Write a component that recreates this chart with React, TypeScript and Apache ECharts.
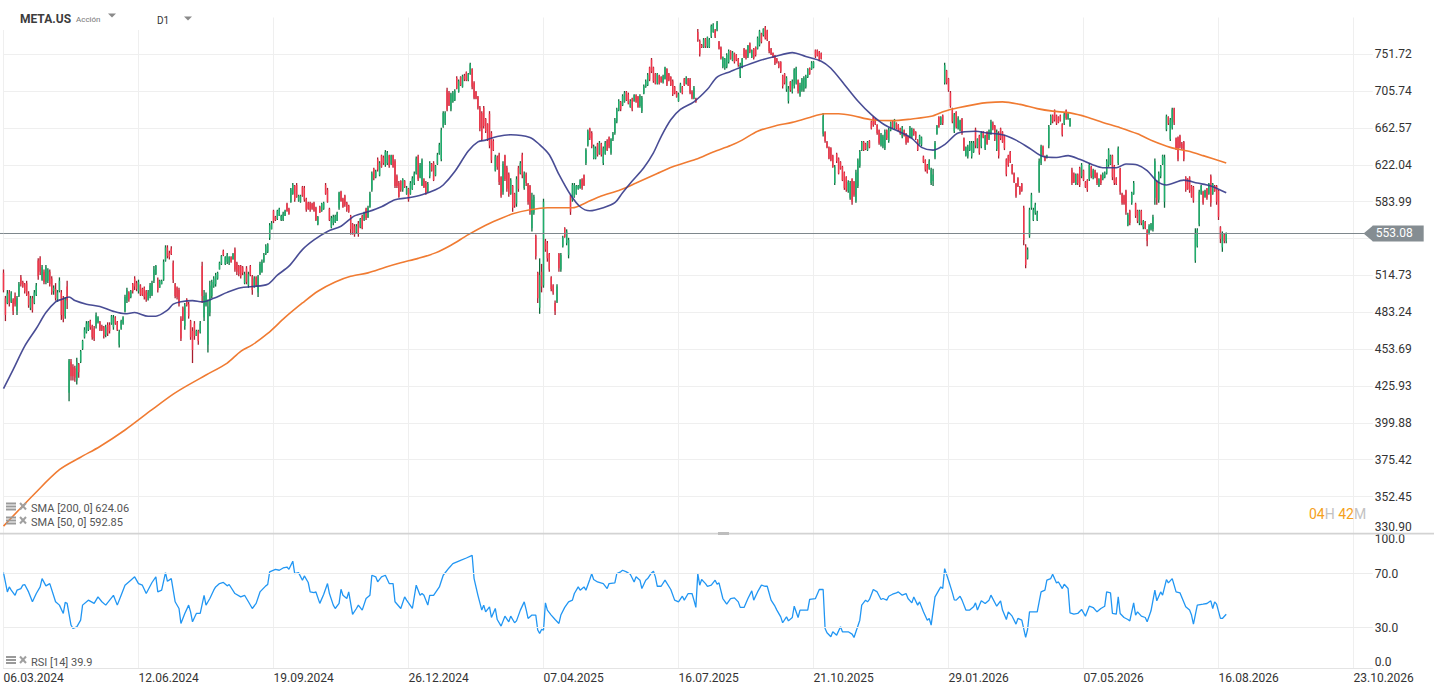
import React, { useEffect, useRef } from 'react';
import * as echarts from 'echarts';

// ---------- data ----------
const dateLabels = ['06.03.2024', '12.06.2024', '19.09.2024', '26.12.2024', '07.04.2025', '16.07.2025', '21.10.2025', '29.01.2026', '07.05.2026', '16.08.2026', '23.10.2026'];
const priceTicks = [330.9, 352.45, 375.42, 399.88, 425.93, 453.69, 483.24, 514.73, 548.27, 583.99, 622.04, 662.57, 705.74, 751.72];
const rsiTicks = [0, 30, 70, 100];
const lastPrice = 553.08;
const sma200Last = 624.06;
const sma50Last = 592.85;
const rsiLast = 39.9;

// [open, close, low, high] per trading day
const candles: number[][] = [
  [517,502,500,520],[495,481,476,497],[491,499,490,502],[500,491,488,502],[492,499,491,501],[494,484,481,495],[497,490,488,500],[484,495,481,497],[497,507,496,509],[513,507,505,515],
  [509,505,504,510],[507,501,499,508],[508,498,497,510],[499,489,487,501],[487,495,485,497],[495,485,483,497],[491,500,490,502],[498,506,497,508],[528,514,511,530],[530,518,515,532],
  [511,522,510,524],[518,509,507,520],[509,522,507,524],[510,519,508,521],[518,507,505,520],[512,500,498,514],[501,504,498,506],[503,495,493,508],[494,500,492,502],[501,510,500,513],
  [500,481,477,502],[494,478,475,497],[480,494,478,496],[505,493,486,510],[421,445,415,446],[444,433,430,446],[440,433,430,442],[439,432,429,441],[430,444,427,447],[442,436,432,443],
  [444,452,443,453],[454,460,453,461],[463,469,462,471],[467,474,466,476],[469,475,468,476],[476,471,469,477],[472,463,461,473],[470,462,460,472],[472,481,470,483],[475,479,474,480],
  [475,469,468,476],[472,469,468,473],[471,464,462,472],[465,471,463,473],[473,466,464,475],[473,468,466,475],[474,480,473,481],[471,479,469,481],[479,474,473,480],[475,469,468,476],
  [457,467,455,469],[470,476,469,477],[474,479,473,480],[484,496,483,498],[493,502,491,504],[500,494,492,501],[496,501,495,502],[507,501,499,508],[512,505,502,514],[508,503,501,510],
  [501,509,499,511],[506,498,497,507],[503,498,497,504],[504,496,494,505],[501,494,492,502],[494,500,493,502],[497,506,495,508],[498,508,497,510],[510,520,508,523],[516,523,515,524],
  [511,502,500,513],[504,510,504,511],[507,510,507,511],[511,527,510,529],[528,540,527,542],[540,532,530,542],[535,531,529,537],[539,534,533,541],[526,511,508,528],[507,497,495,508],
  [504,496,494,505],[502,490,488,504],[478,462,460,480],[487,477,476,488],[472,489,469,491],[494,489,488,495],[490,480,478,492],[476,463,461,477],[468,453,443,471],[474,464,461,476],
  [464,468,464,469],[468,460,457,469],[467,474,466,476],[523,497,491,527],[479,497,476,502],[489,498,488,500],[457,488,451,494],[483,506,480,510],[497,509,495,511],[505,512,504,514],
  [507,515,505,517],[512,517,511,518],[520,526,520,527],[525,532,524,533],[537,533,532,538],[525,531,524,532],[527,533,525,535],[526,531,524,532],[531,527,526,532],[529,534,529,535],
  [538,520,518,540],[526,518,515,527],[523,516,514,524],[523,514,512,524],[522,517,515,523],[508,516,507,518],[521,509,507,523],[506,516,504,518],[523,515,514,524],[514,502,498,515],
  [505,512,504,514],[513,506,505,514],[500,514,496,515],[516,525,515,527],[518,527,517,529],[527,533,526,535],[534,541,533,543],[536,543,535,544],[549,561,547,563],[557,563,557,565],
  [575,565,563,576],[569,566,565,570],[567,575,566,576],[570,577,570,578],[566,570,565,571],[566,572,565,574],[570,575,570,576],[582,575,574,583],[577,572,571,578],[584,596,583,598],
  [592,601,591,603],[600,586,584,601],[601,589,588,603],[585,590,584,591],[584,590,583,591],[599,590,589,600],[598,586,584,600],[587,576,574,588],[583,577,576,584],[583,576,574,584],
  [582,577,576,583],[583,575,574,584],[578,566,565,579],[562,569,561,570],[579,573,573,580],[575,582,574,583],[577,583,576,584],[601,592,591,603],[596,584,583,598],[577,566,565,578],
  [559,568,558,570],[563,569,561,571],[564,570,563,571],[565,573,565,574],[578,593,576,594],[594,585,584,595],[587,579,578,588],[590,581,579,591],[583,576,574,584],[580,574,573,581],
  [570,557,552,571],[562,554,552,563],[560,552,550,562],[554,560,553,562],[563,553,550,565],[559,567,558,568],[570,558,557,571],[566,573,565,574],[577,568,566,578],[569,578,568,580],
  [579,592,578,594],[596,613,594,615],[618,608,606,619],[609,615,608,617],[628,617,615,630],[611,624,610,626],[632,620,619,633],[630,624,622,632],[622,636,620,638],[624,635,622,637],
  [632,621,619,633],[623,632,622,633],[632,620,619,633],[626,600,598,628],[610,600,598,612],[603,589,588,605],[605,596,594,606],[596,607,594,608],[605,599,598,606],[592,598,591,600],
  [597,586,584,598],[592,603,591,605],[597,608,596,610],[603,613,601,615],[613,629,612,631],[631,607,605,633],[609,622,608,624],[601,627,600,629],[607,599,598,608],[603,593,591,605],
  [594,602,593,604],[610,624,608,626],[623,616,615,624],[624,606,605,626],[611,621,610,622],[623,633,622,635],[634,644,633,646],[628,660,626,663],[664,680,663,682],[668,680,666,682],
  [707,684,682,710],[704,689,688,706],[684,702,682,704],[693,704,692,706],[695,706,694,708],[722,709,708,724],[705,718,704,720],[723,713,712,724],[711,724,710,726],[725,720,718,727],
  [729,719,718,730],[719,727,718,728],[727,739,726,741],[733,711,708,734],[716,698,696,718],[705,697,696,706],[699,686,684,700],
  [686,662,659,688],[680,650,648,682],[686,665,662,688],[673,659,657,674],[667,650,648,668],[679,643,640,682],[657,627,624,659],[648,638,637,650],[616,631,615,633],[630,620,617,632],
  [633,604,601,635],[609,590,588,610],[594,623,591,626],[632,607,605,633],[619,597,594,621],[612,592,589,614],[592,606,591,608],[600,578,574,601],[592,580,578,593],[582,607,579,610],
  [619,597,594,621],[613,624,612,626],[633,611,608,635],[598,613,596,615],[612,603,600,614],[602,584,581,603],[600,574,571,601],[558,586,555,593],[573,589,571,591],[551,532,529,552],
  [517,495,491,518],[487,515,482,530],[518,505,500,525],[506,584,504,587],[546,538,536,548],[544,530,527,546],[534,520,518,535],[513,503,501,514],[506,500,498,507],[491,484,481,493],
  [492,505,491,507],[534,521,518,535],[520,533,518,535],[541,549,540,551],[558,550,549,559],[544,555,542,557],[533,547,530,549],[590,574,571,591],[586,601,584,603],[589,601,588,603],
  [592,600,591,601],[597,600,596,601],[598,606,597,607],[607,598,596,608],[611,601,600,612],[624,638,622,640],[644,659,642,661],[662,651,649,663],[657,642,640,659],[629,642,628,644],
  [629,640,628,642],[645,633,631,646],[634,646,633,648],[645,633,631,646],[624,640,622,642],[634,646,633,648],[648,638,637,650],[652,642,640,653],[635,650,633,651],[650,656,648,658],
  [657,672,655,674],[670,684,668,686],[683,694,682,696],[693,684,682,694],[689,700,688,702],[693,704,692,706],[705,695,694,706],[702,691,690,704],[687,694,686,696],[697,684,682,698],
  [694,701,693,702],[701,693,692,702],[699,687,686,700],[688,700,686,702],[682,698,680,700],[703,712,702,714],[711,718,710,720],[713,726,712,728],[735,720,718,736],[745,730,728,747],
  [735,718,716,736],[727,715,714,728],[715,727,714,728],[725,715,714,726],[723,717,716,724],[717,724,715,726],[721,735,720,736],[733,714,712,734],[727,719,718,728],[723,713,712,724],
  [718,702,700,720],[711,703,702,712],[705,699,698,706],[694,702,693,704],[705,714,704,716],[711,703,702,712],[721,713,712,722],[715,722,714,724],[721,713,712,722],[720,704,702,722],
  [705,698,696,707],[697,710,696,712],[697,693,692,698],[781,770,768,785],[769,752,749,771],[764,761,760,765],[761,771,760,773],[772,762,760,773],[762,774,760,775],[761,771,760,773],
  [775,789,773,791],[781,791,780,793],[783,775,773,785],[784,794,782,796],[768,759,758,769],[761,747,745,762],[736,748,734,749],
  [734,746,732,747],[736,751,734,753],[742,756,740,758],[756,746,745,757],[744,754,743,756],[753,742,740,754],[751,744,743,752],[746,738,736,747],[724,738,722,741],[736,746,734,747],
  [759,749,747,760],[757,747,745,758],[749,763,747,764],[766,755,753,767],[748,757,747,758],[759,747,745,760],[761,751,749,762],[759,773,758,775],[764,782,762,784],[779,768,766,780],
  [777,785,775,786],[787,773,771,789],[783,771,769,784],[768,756,753,769],[759,752,751,760],[753,748,747,754],[750,740,738,751],[746,742,740,747],[741,736,734,743],[742,730,728,743],
  [725,712,709,726],[727,716,714,728],[708,722,705,724],[694,709,691,712],[717,707,705,718],[705,718,703,720],[712,732,709,734],[716,734,714,736],[719,706,703,720],[701,713,699,716],
  [707,720,705,722],[708,722,705,724],[711,724,709,726],[723,733,722,734],[734,727,726,735],[733,741,732,743],[735,742,734,743],[757,749,747,758],[757,750,749,758],[755,744,743,756],
  [753,746,745,754],[656,676,653,680],[658,648,646,659],[647,641,640,648],[641,629,628,642],[640,627,626,641],[632,620,619,633],[603,620,601,622],[634,626,624,635],[629,613,612,630],
  [625,618,617,626],[620,606,605,621],[614,598,596,615],[609,596,594,610],[595,604,593,606],[588,603,586,605],[607,584,581,608],[604,591,589,605],[585,614,583,617],[600,627,598,629],
  [621,636,619,638],[638,647,637,648],[647,638,637,648],[645,639,638,646],[638,647,637,648],[648,641,640,649],[670,662,661,671],[675,666,664,676],[673,667,666,674],[666,657,655,667],
  [660,646,644,661],[644,655,642,657],[642,653,640,655],[640,658,638,661],[660,651,649,661],[648,661,646,663],[660,669,659,670],[670,663,662,671],[662,672,661,673],[668,662,661,669],
  [666,660,659,667],[662,656,655,663],[653,663,651,665],[660,654,653,661],[656,646,644,657],[653,647,646,654],[653,663,651,665],[653,661,651,663],[661,656,654,662],[658,651,649,659],
  [649,638,637,650],[645,654,644,655],[644,652,642,653],[631,625,624,632],[627,617,615,628],[622,614,613,623],[618,626,617,628],[603,617,601,619],[605,612,600,618],[630,646,628,648],
  [656,665,655,666],[675,664,663,676],[667,675,666,676],[677,668,666,678],[716,738,714,741],[731,716,714,732],[721,707,705,722],[704,688,686,706],[685,670,668,686],[659,678,657,680],
  [681,664,662,682],[662,674,661,676],[660,671,659,672],[673,657,655,674],[651,638,637,652],[632,641,631,642],[631,642,629,644],[638,646,637,648],
  [631,646,629,648],[636,646,635,648],[661,643,640,663],[641,650,640,651],[654,635,633,655],[642,657,640,659],[658,652,651,659],[640,654,638,655],[658,645,644,659],[651,660,649,661],
  [657,670,655,672],[668,662,660,670],[665,650,648,666],[639,658,637,661],[657,632,629,659],[662,651,649,663],[658,647,646,659],[654,640,638,655],[628,612,610,629],[632,622,620,633],
  [636,626,624,637],[622,613,612,623],[613,604,603,614],[602,590,588,603],[608,600,599,609],[599,592,591,600],[602,595,594,603],[578,547,542,580],[541,524,521,543],[530,538,529,540],
  [551,576,549,578],[578,591,576,593],[566,576,565,578],[573,581,571,583],[566,573,565,575],[595,626,593,629],[624,642,622,644],[642,633,631,643],[631,627,626,632],[630,632,629,633],
  [643,664,640,666],[668,676,666,678],[677,670,668,678],[683,672,670,684],[677,668,666,678],[675,669,668,676],[677,671,670,678],[667,655,653,668],[668,678,666,680],[683,674,672,684],
  [673,679,672,680],[665,673,664,674],[617,603,601,619],[613,604,603,614],[602,612,601,613],[612,603,601,613],[619,601,599,620],[610,622,608,624],[616,606,605,617],[604,599,598,605],
  [606,596,594,607],[607,622,605,624],[620,610,608,621],[609,616,607,618],[616,609,608,617],[613,603,601,614],[600,607,599,608],[611,603,601,612],[607,612,606,614],[609,614,608,615],
  [613,626,612,628],[622,638,620,640],[623,632,622,633],[632,609,606,633],[621,603,601,622],[608,602,601,609],[624,640,622,642],[618,594,591,619],[592,583,581,593],[590,582,581,591],
  [595,574,571,596],[561,571,560,573],[575,563,561,576],[583,593,581,594],[592,603,591,605],[582,570,568,583],[575,565,563,576],[563,575,561,576],[575,563,561,576],[559,565,557,566],
  [564,558,557,565],[556,546,541,557],[553,560,552,562],[557,562,556,563],[557,569,555,571],[588,626,581,629],[605,586,581,606],[586,613,583,615],[610,621,608,622],[623,632,622,633],
  [584,630,578,633],[661,676,659,678],[675,668,666,676],[650,672,648,674],[663,684,661,686],[685,669,666,686],[651,640,638,652],[652,628,626,653],[654,642,640,655],[645,640,638,647],
  [647,628,626,648],[609,596,594,610],[607,597,596,608],[609,595,593,610],[600,589,588,601],[599,585,583,600],[528,553,526,558],[541,556,540,558],[562,594,560,596],[592,600,591,601],
  [594,583,581,595],[589,595,588,596],[597,588,586,598],[592,602,591,603],[610,583,579,612],[592,602,591,603],[600,595,594,601],[600,584,581,601],[595,569,566,596],[559,548,544,560],
  [540,553,536,555],[552,546,544,553],[546,553,544,554],
];

// [trading-day index, value]
const sma50: number[][] = [
  [0,424],[5,438],[11,456],[17,470],[22,483],[27,492],[30,494],[34,496],[37,493],[43,490],[50,488],[57,484],[63,482],[68,483],[75,480],[79,480],[85,485],[88,490],[92,492],[98,493],
  [103,492],[109,495],[116,500],[123,504],[129,505],[137,507],[142,515],[148,523],[155,538],[161,547],[168,555],[175,560],[182,570],[189,574],[196,579],[203,586],[210,588],[217,591],[224,596],[228,601],
  [234,615],[241,637],[246,647],[250,649],[256,653],[263,655],[273,652],[278,644],[283,633],[288,612],[294,591],[299,579],[304,575],[311,578],[317,583],[321,593],[326,605],[332,619],[337,635],[341,653],
  [346,672],[351,684],[358,693],[365,708],[370,723],[377,730],[381,734],[391,743],[400,749],[409,754],[416,749],[424,743],[429,734],[436,714],[443,694],[450,678],[457,666],[464,659],[471,651],[476,641],
  [482,638],[488,644],[495,657],[504,659],[510,657],[518,655],[525,649],[532,640],[539,631],[546,630],[552,632],[558,628],[565,622],[570,619],[577,619],[582,623],[588,622],[593,616],[598,605],[603,601],
  [612,606],[619,603],[626,600],[634,593],
];
const sma200: number[][] = [
  [0,335],[16,354],[29,369],[40,377],[50,384],[63,395],[77,409],[88,420],[95,426],[105,434],[116,443],[123,452],[129,457],[137,466],[146,479],[155,491],[163,501],[172,509],[180,514],[189,517],
  [198,522],[206,526],[215,530],[224,535],[232,542],[241,552],[250,561],[256,566],[264,572],[273,576],[282,578],[295,578],[302,583],[309,589],[320,596],[328,603],[339,613],[347,620],[359,628],[368,636],
  [377,643],[383,649],[391,659],[400,665],[409,669],[417,674],[426,679],[433,679],[440,677],[450,672],[461,671],[471,673],[481,676],[488,682],[495,686],[504,690],[510,692],[518,693],[527,690],[536,685],
  [544,682],[553,680],[562,675],[570,669],[579,663],[588,656],[596,648],[605,641],[614,637],[622,632],[634,624],
];
const rsi14: number[][] = [
  [0,70.8],[2,56.5],[3,60.2],[4,57.8],[6,54.0],[7,57.8],[9,59.0],[10,61.5],[11,62.0],[13,56.5],[15,49.2],[17,55.3],[19,60.2],[20,66.4],[22,61.0],[24,62.7],[27,49.2],[29,46.7],[31,40.5],[32,48.7],
  [33,48.0],[35,31.9],[36,29.4],[38,30.6],[40,35.5],[41,46.7],[44,50.4],[47,48.0],[49,52.8],[51,49.2],[53,46.7],[57,54.0],[59,46.7],[61,54.0],[63,61.5],[66,65.2],[68,67.7],[70,62.7],[72,61.5],[74,55.3],
  [77,63.5],[79,67.7],[80,56.5],[82,57.8],[84,70.8],[85,64.4],[87,66.4],[89,49.2],[91,44.2],[92,33.1],[94,40.5],[96,46.7],[97,41.7],[98,34.3],[100,40.5],[102,40.5],[104,54.0],[105,46.7],[107,51.6],[109,57.8],
  [110,60.2],[112,62.7],[114,63.5],[116,61.0],[117,62.0],[120,55.3],[123,52.8],[125,54.0],[127,49.2],[129,44.2],[131,48.0],[133,56.5],[136,61.0],[137,62.0],[138,71.4],[141,73.3],[143,72.6],[145,74.3],[147,75.0],[148,73.3],
  [150,79.3],[151,70.1],[153,70.8],[155,65.2],[156,68.4],[158,63.5],[159,56.5],[161,56.0],[162,56.5],[164,48.0],[166,54.6],[168,62.7],[169,55.3],[171,46.7],[172,44.2],[174,48.0],[175,58.5],[176,54.0],[178,51.6],[179,56.5],
  [181,39.8],[183,44.2],[184,46.7],[186,43.0],[188,51.6],[190,54.0],[191,68.9],[193,67.7],[194,64.0],[196,67.7],[198,68.9],[200,62.7],[202,62.7],[203,49.2],[206,44.2],[208,52.8],[209,50.4],[212,44.2],[214,61.5],[216,54.0],
  [217,55.3],[218,54.0],[220,46.7],[221,54.0],[223,54.0],[226,60.2],[228,68.9],[231,74.3],[233,77.5],[237,80.0],[240,81.7],[243,83.7],[244,66.4],[246,54.0],[248,43.0],[249,46.7],[250,41.7],[252,45.4],[253,37.5],[255,44.2],
  [256,36.0],[258,31.1],[260,38.5],[262,34.3],[263,38.5],[265,33.6],[266,35.0],[268,43.0],[270,49.1],[271,43.4],[272,36.8],[274,39.3],[276,39.3],[277,28.2],[278,25.7],[279,28.6],[280,28.2],[281,48.4],[282,43.0],[284,39.3],
  [286,36.0],[288,33.1],[289,39.3],[291,45.0],[293,49.1],[295,50.4],[296,55.3],[298,60.2],[299,57.8],[301,60.2],[302,57.8],[304,65.7],[305,70.1],[306,65.7],[308,63.9],[311,62.7],[313,59.0],[314,62.7],[317,63.2],[318,70.1],
  [320,71.4],[321,72.6],[323,71.4],[325,69.6],[327,63.9],[328,67.7],[330,65.2],[331,59.0],[333,65.2],[334,66.4],[336,70.6],[337,71.8],[338,67.7],[339,60.7],[341,60.7],[343,65.2],[346,58.3],[348,50.4],[350,49.1],[352,53.3],
  [353,50.4],[355,55.3],[357,55.3],[358,50.4],[359,45.0],[360,70.1],[361,61.5],[362,65.7],[364,62.7],[365,60.7],[367,61.5],[369,65.2],[370,62.2],[371,63.2],[373,51.6],[375,47.4],[377,51.6],[379,52.1],[381,49.1],[382,45.0],
  [384,45.0],[386,51.6],[388,57.3],[389,50.4],[391,56.5],[393,61.5],[395,60.7],[396,60.7],[398,50.4],[400,45.9],[401,43.0],[403,38.0],[404,33.6],[406,38.0],[407,35.0],[409,37.5],[410,45.9],[412,37.5],[413,43.0],[415,43.0],
  [417,43.0],[418,50.9],[421,51.6],[423,58.3],[425,58.3],[426,29.4],[427,26.2],[429,23.2],[430,26.9],[432,24.4],[434,30.6],[435,26.9],[438,26.9],[440,25.2],[441,22.7],[444,35.5],[445,46.7],[447,50.4],[448,49.1],[449,50.9],
  [451,58.3],[453,56.5],[455,50.9],[456,51.6],[458,50.4],[459,53.3],[461,54.8],[463,55.8],[464,56.5],[466,54.1],[468,55.3],[469,51.6],[471,48.4],[472,52.8],[474,46.7],[475,49.1],[477,41.7],[479,35.5],[480,36.8],[481,31.9],
  [483,52.8],[485,57.8],[486,60.2],[487,59.0],[488,73.8],[490,65.2],[492,56.0],[493,50.6],[494,50.4],[496,53.3],[497,50.4],[499,43.0],[501,43.0],[503,45.4],[504,48.4],[505,43.0],[507,49.9],[509,47.9],[511,50.4],[512,54.1],
  [515,45.9],[517,49.9],[518,43.0],[520,36.0],[521,41.7],[523,38.5],[525,32.6],[526,36.8],[528,35.5],[530,22.7],[531,28.6],[532,41.7],[534,41.7],[536,41.7],[537,49.1],[538,56.5],[540,57.8],[541,65.2],[543,66.4],[544,69.6],
  [546,63.2],[547,63.9],[549,59.0],[550,62.2],[552,59.0],[553,41.0],[555,40.0],[557,40.5],[559,43.5],[561,38.5],[563,45.9],[565,44.9],[567,41.7],[569,44.2],[571,45.9],[572,56.5],[574,55.8],[575,40.5],[577,40.0],[578,52.8],
  [579,40.5],[581,37.5],[583,36.0],[584,35.0],[586,48.4],[587,39.3],[588,41.7],[590,38.5],[592,37.5],[593,34.3],[595,42.5],[597,57.8],[598,49.9],[600,56.5],[601,54.1],[603,65.7],[604,63.2],[606,66.4],[608,56.5],[610,55.8],
  [613,45.4],[615,43.0],[616,39.3],[617,32.6],[619,46.7],[622,47.4],[624,47.9],[626,49.9],[627,44.2],[628,49.1],[629,47.4],[631,36.8],[632,36.8],[634,39.9],
];

// ---------- scale helpers ----------
const BASE = priceTicks[0];
const STEP = Math.log(priceTicks[priceTicks.length - 1] / BASE) / (priceTicks.length - 1);
const ty = (p: number) => Math.log(p / BASE) / STEP;
const LABEL_STEP = 70;

const BULL_BODY = '#1fae6c';
const BULL_WICK = '#0d6b3d';
const BEAR_BODY = '#f2374b';
const BEAR_WICK = '#a91c2e';
const GRID_COLOR = '#efefef';
const FONT = 'Roboto, "Noto Sans", sans-serif';

function buildOption(): any {
  const gridLeft = 3.5;
  const gridRight = 61.2;
  const xCommon = {
    type: 'value',
    min: 0,
    max: 710,
    interval: LABEL_STEP,
    axisTick: { show: false },
    splitLine: { show: true, showMaxLine: false, lineStyle: { color: GRID_COLOR, width: 1 } },
  };
  return {
    animation: false,
    textStyle: { fontFamily: FONT },
    grid: [
      { left: gridLeft, right: gridRight, top: 17.5, bottom: 694 - 533.35 },
      { left: gridLeft, right: gridRight, top: 533.35, bottom: 26 },
    ],
    xAxis: [
      { ...xCommon, gridIndex: 0, axisLine: { show: false }, axisLabel: { show: false } },
      {
        ...xCommon,
        gridIndex: 1,
        axisLine: { show: true, lineStyle: { color: '#e4e4e4' } },
        axisLabel: {
          show: true,
          align: 'left',
          margin: 4,
          color: '#333',
          fontSize: 12,
          formatter: (v: number) => {
            const k = v / LABEL_STEP;
            return Number.isInteger(k) && k >= 0 && k < dateLabels.length ? dateLabels[k] : '';
          },
        },
      },
    ],
    yAxis: [
      {
        type: 'value',
        gridIndex: 0,
        position: 'right',
        min: 0,
        max: 14,
        interval: 1,
        axisLine: { show: false },
        axisTick: { show: false },
        splitLine: { show: true, showMaxLine: false, lineStyle: { color: GRID_COLOR } },
        axisLabel: {
          margin: 2,
          color: '#333',
          fontSize: 12,
          verticalAlignMinLabel: 'bottom',
          formatter: (v: number) => {
            const k = Math.round(v);
            if (k === 8 || k < 0 || k >= priceTicks.length) return '';
            return priceTicks[k].toFixed(2);
          },
        },
      },
      {
        type: 'value',
        gridIndex: 1,
        position: 'right',
        min: 0,
        max: 100,
        interval: 10,
        axisLine: { show: false },
        axisTick: { show: false },
        splitLine: { show: false },
        axisLabel: {
          margin: 2,
          color: '#333',
          fontSize: 12,
          verticalAlignMaxLabel: 'top',
          verticalAlignMinLabel: 'bottom',
          formatter: (v: number) => (rsiTicks.indexOf(v) >= 0 ? v.toFixed(1) : ''),
        },
      },
    ],
    series: [
      {
        type: 'custom',
        name: 'META.US',
        xAxisIndex: 0,
        yAxisIndex: 0,
        z: 2,
        encode: { x: 0, y: [1, 2, 3, 4] },
        data: candles.map((c, i) => [i, ty(c[0]), ty(c[1]), ty(c[2]), ty(c[3])]),
        renderItem: (params: any, api: any) => {
          const x = api.value(0);
          const o = api.value(1);
          const c = api.value(2);
          const po = api.coord([x, o]);
          const pc = api.coord([x, c]);
          const pl = api.coord([x, api.value(3)]);
          const ph = api.coord([x, api.value(4)]);
          const up = c >= o;
          const cx = po[0];
          const top = Math.min(po[1], pc[1]);
          const h = Math.max(Math.abs(po[1] - pc[1]), 1);
          return {
            type: 'group',
            children: [
              { type: 'line', shape: { x1: cx, y1: ph[1], x2: cx, y2: pl[1] }, style: { stroke: up ? BULL_WICK : BEAR_WICK, lineWidth: 1.3 } },
              { type: 'rect', shape: { x: cx - 0.7, y: top, width: 1.4, height: h }, style: { fill: up ? BULL_BODY : BEAR_BODY } },
            ],
          };
        },
      },
      {
        type: 'line',
        name: 'SMA [200, 0]',
        xAxisIndex: 0,
        yAxisIndex: 0,
        z: 3,
        showSymbol: false,
        smooth: 0.3,
        data: sma200.map(([i, p]) => [i, ty(p)]),
        lineStyle: { color: '#f07b32', width: 1.6 },
        itemStyle: { color: '#f07b32' },
      },
      {
        type: 'line',
        name: 'SMA [50, 0]',
        xAxisIndex: 0,
        yAxisIndex: 0,
        z: 3,
        showSymbol: false,
        smooth: 0.3,
        data: sma50.map(([i, p]) => [i, ty(p)]),
        lineStyle: { color: '#353a8a', width: 1.6, opacity: 0.9 },
        itemStyle: { color: '#353a8a' },
        markLine: {
          silent: true,
          symbol: ['none', 'none'],
          lineStyle: { color: '#7e878c', width: 1, type: 'solid' },
          label: {
            show: true,
            position: 'end',
            distance: 0,
            formatter: lastPrice.toFixed(2),
            color: '#ffffff',
            backgroundColor: '#858d92',
            padding: [2, 11, 2, 3],
            fontSize: 12,
            lineHeight: 12,
          },
          data: [{ yAxis: ty(lastPrice) }],
        },
      },
      {
        type: 'line',
        name: 'RSI [14]',
        xAxisIndex: 1,
        yAxisIndex: 1,
        showSymbol: false,
        data: rsi14,
        lineStyle: { color: '#2196f3', width: 1.3 },
        itemStyle: { color: '#2196f3' },
        markLine: {
          silent: true,
          symbol: ['none', 'none'],
          label: { show: false },
          lineStyle: { color: '#ececec', width: 1, type: 'solid' },
          data: [{ yAxis: 30 }, { yAxis: 70 }],
        },
      },
    ],
  };
}

function legendRow(y: number, text: string): any[] {
  return [
    { type: 'rect', z: 20, shape: { x: 6, y: y - 5.5, width: 10, height: 2 }, style: { fill: '#9a9a9a' } },
    { type: 'rect', z: 20, shape: { x: 6, y: y - 2.5, width: 10, height: 2 }, style: { fill: '#9a9a9a' } },
    { type: 'rect', z: 20, shape: { x: 6, y: y + 0.5, width: 10, height: 2 }, style: { fill: '#9a9a9a' } },
    { type: 'line', z: 20, shape: { x1: 20, y1: y - 5, x2: 26, y2: y + 1.5 }, style: { stroke: '#a0a0a0', lineWidth: 2 } },
    { type: 'line', z: 20, shape: { x1: 26, y1: y - 5, x2: 20, y2: y + 1.5 }, style: { stroke: '#a0a0a0', lineWidth: 2 } },
    { type: 'text', z: 20, x: 31, y: y + 0.5, style: { text, fill: '#555', fontSize: 11, fontFamily: FONT, verticalAlign: 'middle' } },
  ];
}

function buildGraphic(yPrice: number): any[] {
  return [
    { type: 'rect', z: 10, shape: { x: 0, y: 0, width: 255, height: 30 }, style: { fill: '#ffffff' } },
    { type: 'line', z: 12, shape: { x1: 0, y1: yPrice, x2: 3.5, y2: yPrice }, style: { stroke: '#7e878c', lineWidth: 1 } },
    { type: 'text', z: 11, x: 20, y: 19, style: { text: 'META.US', fill: '#3c3c3c', fontSize: 12, fontWeight: 'bold', fontFamily: FONT, verticalAlign: 'middle' } },
    { type: 'text', z: 11, x: 76, y: 19.5, style: { text: 'Acción', fill: '#777', fontSize: 8, fontFamily: FONT, verticalAlign: 'middle' } },
    { type: 'polygon', z: 11, shape: { points: [[108, 13.5], [116, 13.5], [112, 17.5]] }, style: { fill: '#8a8a8a' } },
    { type: 'text', z: 11, x: 157, y: 20.5, style: { text: 'D1', fill: '#333', fontSize: 10, fontFamily: FONT, verticalAlign: 'middle' } },
    { type: 'polygon', z: 11, shape: { points: [[184, 16.5], [192, 16.5], [188, 20.5]] }, style: { fill: '#8a8a8a' } },
    ...legendRow(508, `SMA [200, 0] ${sma200Last.toFixed(2)}`),
    ...legendRow(522, `SMA [50, 0] ${sma50Last.toFixed(2)}`),
    ...legendRow(661.5, `RSI [14] ${rsiLast.toFixed(1)}`),
    {
      type: 'text', z: 20, x: 1309, y: 514,
      style: {
        text: '{a|04}{b|H} {a|42}{b|M}',
        fontFamily: FONT,
        fontSize: 14,
        verticalAlign: 'middle',
        rich: { a: { fill: '#f5a11c', fontSize: 14, fontFamily: FONT }, b: { fill: '#c2c2c2', fontSize: 14, fontFamily: FONT } },
      },
    },
    { type: 'line', z: 15, shape: { x1: 0, y1: 533.6, x2: 1434, y2: 533.6 }, style: { stroke: '#d3d3d3', lineWidth: 1.6 } },
    { type: 'rect', z: 16, shape: { x: 718, y: 532, width: 11, height: 3 }, style: { fill: '#bdbdbd' } },
    { type: 'polygon', z: 30, shape: { points: [[1363.5, yPrice], [1373, yPrice - 8], [1373, yPrice + 8]] }, style: { fill: '#858d92' } },
  ];
}

export default function App() {
  const ref = useRef<HTMLDivElement>(null);
  useEffect(() => {
    document.body.style.margin = '0';
    if (!ref.current) return;
    const chart = echarts.init(ref.current, undefined, { renderer: 'svg' });
    chart.setOption(buildOption());
    const yPx = chart.convertToPixel({ yAxisIndex: 0 }, ty(lastPrice)) as unknown as number;
    chart.setOption({ graphic: buildGraphic(typeof yPx === 'number' ? yPx : 233.4) });
    return () => chart.dispose();
  }, []);
  return <div ref={ref} style={{ width: 1434, height: 694 }} />;
}
